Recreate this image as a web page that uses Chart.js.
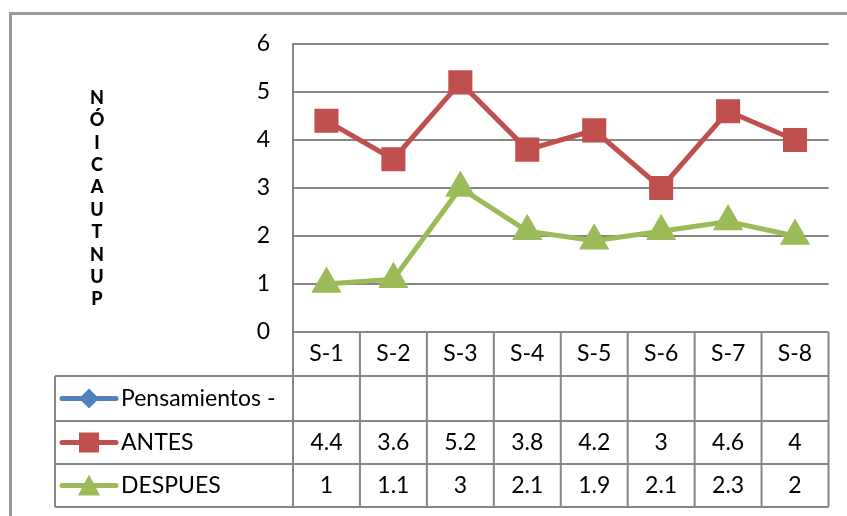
<!DOCTYPE html>
<html>
<head>
<meta charset="utf-8">
<script src="https://cdn.jsdelivr.net/npm/chart.js@4/dist/chart.umd.min.js"></script>
<style>
  body { margin: 0; background: #fff; }
</style>
</head>
<body>
<canvas id="chart" width="847" height="516"></canvas>
<script>
var categories = ["S-1", "S-2", "S-3", "S-4", "S-5", "S-6", "S-7", "S-8"];
var pensamientos = [null, null, null, null, null, null, null, null];
var antes = [4.4, 3.6, 5.2, 3.8, 4.2, 3, 4.6, 4];
var despues = [1, 1.1, 3, 2.1, 1.9, 2.1, 2.3, 2];
var yTicks = [0, 1, 2, 3, 4, 5, 6];
var yTitle = "PUNTUACIÓN";

var FONT = "Lato";
var GRID = "#868686";

// tabla de datos debajo del grafico + titulo del eje + marco
var tablePlugin = {
  id: "dataTable",
  afterDraw: function (chart) {
    var ctx = chart.ctx;
    var x = chart.scales.x;
    var area = chart.chartArea;
    var rowTops = [area.bottom, 376, 421, 464, 507];
    var legendLeft = 55;
    var colW = x.getPixelForValue(1) - x.getPixelForValue(0);

    ctx.save();
    // marco exterior
    ctx.strokeStyle = "#9a9a9a";
    ctx.lineWidth = 3;
    ctx.beginPath();
    ctx.moveTo(10.5, 516);
    ctx.lineTo(10.5, 13.5);
    ctx.lineTo(847, 13.5);
    ctx.stroke();

    // lineas de la tabla
    ctx.strokeStyle = GRID;
    ctx.lineWidth = 2;
    ctx.beginPath();
    for (var r = 1; r < rowTops.length; r++) {
      ctx.moveTo(legendLeft, rowTops[r]);
      ctx.lineTo(area.right, rowTops[r]);
    }
    ctx.moveTo(legendLeft, rowTops[1]);
    ctx.lineTo(legendLeft, rowTops[4]);
    for (var i = 0; i <= categories.length; i++) {
      var lx = x.getPixelForValue(0) - colW / 2 + i * colW;
      ctx.moveTo(lx, rowTops[0]);
      ctx.lineTo(lx, rowTops[4]);
    }
    ctx.stroke();

    // textos
    ctx.fillStyle = "#000";
    ctx.font = "23px " + FONT;
    ctx.textAlign = "center";
    ctx.textBaseline = "middle";
    var rows = [categories, pensamientos, antes, despues];
    rows.forEach(function (vals, r) {
      var cy = (rowTops[r] + rowTops[r + 1]) / 2;
      vals.forEach(function (v, i) {
        if (v === null) return;
        ctx.fillText(String(v), x.getPixelForValue(i), cy);
      });
    });

    // leyenda en la tabla
    chart.data.datasets.forEach(function (ds, d) {
      var cy = (rowTops[d + 1] + rowTops[d + 2]) / 2;
      ctx.strokeStyle = ds.borderColor;
      ctx.lineWidth = 5;
      ctx.lineCap = "round";
      ctx.beginPath();
      ctx.moveTo(62, cy);
      ctx.lineTo(116, cy);
      ctx.stroke();
      ctx.fillStyle = ds.borderColor;
      ctx.beginPath();
      if (ds.pointStyle === "rectRot") {
        ctx.moveTo(89, cy - 10); ctx.lineTo(99, cy); ctx.lineTo(89, cy + 10); ctx.lineTo(79, cy);
      } else if (ds.pointStyle === "rect") {
        ctx.rect(79, cy - 10, 20, 20);
      } else {
        ctx.moveTo(89, cy - 11); ctx.lineTo(100, cy + 10); ctx.lineTo(78, cy + 10);
      }
      ctx.closePath();
      ctx.fill();
      ctx.fillStyle = "#000";
      ctx.textAlign = "left";
      ctx.font = "23px " + FONT;
      ctx.fillText(ds.label, 121, cy);
    });

    // titulo del eje Y con letras apiladas
    ctx.font = "900 18px " + FONT;
    ctx.textAlign = "center";
    var letters = yTitle.split("").reverse();
    letters.forEach(function (ch, i) {
      ctx.fillText(ch, 97, 98 + i * 22.4);
    });
    ctx.restore();
  }
};

new Chart(document.getElementById("chart").getContext("2d"), {
  type: "line",
  data: {
    labels: categories,
    datasets: [
      {
        label: "Pensamientos -",
        data: pensamientos,
        borderColor: "#4F81BD",
        backgroundColor: "#4F81BD",
        pointStyle: "rectRot",
        borderWidth: 5,
      },
      {
        label: "ANTES",
        data: antes,
        borderColor: "#C0504D",
        backgroundColor: "#C0504D",
        pointStyle: "rect",
        pointRadius: 13.5,
        borderWidth: 5,
      },
      {
        label: "DESPUES",
        data: despues,
        borderColor: "#9BBB59",
        backgroundColor: "#9BBB59",
        pointStyle: "triangle",
        pointRadius: 12.5,
        borderWidth: 5,
      },
    ],
  },
  options: {
    responsive: false,
    animation: false,
    layout: { padding: { top: 44, bottom: 184, left: 0, right: 14 } },
    plugins: { legend: { display: false }, tooltip: { enabled: false } },
    elements: { line: { tension: 0 }, point: { borderWidth: 0 } },
    scales: {
      x: { display: false, offset: true },
      y: {
        min: 0,
        max: 6,
        afterFit: function (scale) { scale.width = 293; },
        afterBuildTicks: function (scale) {
          scale.ticks = yTicks.map(function (v) { return { value: v }; });
        },
        grid: { color: GRID, lineWidth: 2, drawTicks: false },
        border: { color: GRID, width: 2 },
        ticks: { padding: 23, color: "#000", font: { family: FONT, size: 23 } },
      },
    },
  },
  plugins: [tablePlugin],
});
</script>
</body>
</html>
